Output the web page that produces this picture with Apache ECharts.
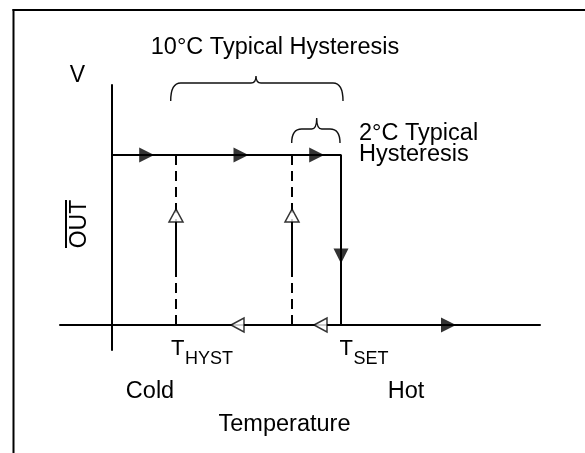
<!DOCTYPE html>
<html>
<head>
<meta charset="utf-8">
<script src="https://cdn.jsdelivr.net/npm/echarts@6/dist/echarts.min.js"></script>
<style>
  html, body { margin: 0; padding: 0; background: #fff; }
  #main { width: 585px; height: 453px; }
</style>
</head>
<body>
<div id="main"></div>
<script>
// diagram units: x = temperature (arbitrary), y = output level
var tempExtent = [-5.2, 42.8];
var levelExtent = [-2.5, 24];
var outLow = 0, outHigh = 17;
var tHyst = 6.4, tInner = 18, tSet = 22.9;

// OUT vs temperature path (solid)
var transferPath = [[0, outHigh], [tSet, outHigh], [tSet, outLow]];
// dashed guides
var guideX = [tHyst, tInner];
// solid up-going shafts under the hollow heads
var upShaft = [5.8, 10.3];
var upHeadY = 10.95;
// arrow heads
var rightArrowsTop = [3.47, 12.9, 20.47];
var downArrowY = 6.9;
var leftArrowsBottom = [12.55, 20.85];
var rightArrowBottom = [33.65];
// braces: [x1, x2, xCusp, yEnd, yLine, yCusp]
var braces = [
    [5.87, 23.1, 14.4, 22.4, 24.2, 24.9],
    [17.97, 22.8, 20.47, 18.2, 19.6, 20.7]
];

var FONT = "'Liberation Sans', Arial, Helvetica, sans-serif";
var myChart = echarts.init(document.getElementById('main'), null, {renderer: 'canvas'});

var series = [];
series.push({
    type: 'line', data: transferPath, symbol: 'none', silent: true,
    lineStyle: {color: '#000', width: 2}, z: 3
});
guideX.forEach(function (x) {
    series.push({
        type: 'line', data: [[x, outLow], [x, outHigh]], symbol: 'none', silent: true,
        lineStyle: {color: '#000', width: 2, type: [10, 6]}, z: 2
    });
    series.push({
        type: 'line', data: [[x, upShaft[0]], [x, upShaft[1]]], symbol: 'none', silent: true,
        lineStyle: {color: '#000', width: 2}, z: 3
    });
});
var arrows = [];
rightArrowsTop.forEach(function (x) { arrows.push({value: [x, outHigh], symbolRotate: -90}); });
arrows.push({value: [tSet, downArrowY], symbolRotate: 180});
rightArrowBottom.forEach(function (x) { arrows.push({value: [x, outLow], symbolRotate: -90}); });
series.push({
    type: 'scatter', data: arrows, symbol: 'triangle', symbolSize: [15, 15],
    itemStyle: {color: '#000'}, silent: true, z: 5
});
var hollow = [];
guideX.forEach(function (x) { hollow.push({value: [x, upHeadY], symbolRotate: 0}); });
leftArrowsBottom.forEach(function (x) { hollow.push({value: [x, outLow], symbolRotate: 90}); });
series.push({
    type: 'scatter', data: hollow, symbol: 'triangle', symbolSize: [14, 13],
    itemStyle: {color: '#fff', borderColor: '#000', borderWidth: 1.5}, silent: true, z: 5
});
series.push({
    type: 'custom', data: braces, silent: true, z: 4,
    renderItem: function (params, api) {
        var x1 = api.value(0), x2 = api.value(1), xc = api.value(2);
        var yE = api.value(3), yL = api.value(4), yC = api.value(5);
        var a = api.coord([x1, yE]), b = api.coord([x1, yL]);
        var c = api.coord([xc, yC]), d = api.coord([x2, yE]);
        var r = Math.min(10, Math.abs(b[1] - a[1]));
        var k = 5;
        var p = 'M' + a[0] + ',' + a[1] +
            ' Q' + a[0] + ',' + b[1] + ' ' + (a[0] + r) + ',' + b[1] +
            ' L' + (c[0] - k) + ',' + b[1] +
            ' Q' + c[0] + ',' + b[1] + ' ' + c[0] + ',' + c[1] +
            ' Q' + c[0] + ',' + b[1] + ' ' + (c[0] + k) + ',' + b[1] +
            ' L' + (d[0] - r) + ',' + b[1] +
            ' Q' + d[0] + ',' + b[1] + ' ' + d[0] + ',' + d[1];
        return {
            type: 'path',
            shape: {pathData: p},
            style: {stroke: '#111', fill: null, lineWidth: 1.4}
        };
    }
});

function txt(s, x, y, size, align) {
    return {
        type: 'text', x: x, y: y, silent: true,
        style: {text: s, fill: '#000', fontSize: size, fontFamily: FONT,
            align: align || 'left', verticalAlign: 'middle'}
    };
}

var option = {
    animation: false,
    backgroundColor: '#fff',
    grid: {left: 60, right: 45, top: 85, bottom: 103},
    xAxis: {
        type: 'value', min: tempExtent[0], max: tempExtent[1],
        axisLine: {show: true, onZero: true, lineStyle: {color: '#000', width: 2}},
        axisTick: {show: false}, axisLabel: {show: false}, splitLine: {show: false}
    },
    yAxis: {
        type: 'value', min: levelExtent[0], max: levelExtent[1],
        axisLine: {show: true, onZero: true, lineStyle: {color: '#000', width: 2}},
        axisTick: {show: false}, axisLabel: {show: false}, splitLine: {show: false}
    },
    graphic: [
        {type: 'line', silent: true, shape: {x1: 12.5, y1: 10, x2: 585, y2: 10}, style: {stroke: '#000', lineWidth: 2}},
        {type: 'line', silent: true, shape: {x1: 13.5, y1: 9, x2: 13.5, y2: 453}, style: {stroke: '#000', lineWidth: 2}},
        txt('10°C Typical Hysteresis', 275, 48, 23.5, 'center'),
        txt('V', 77.5, 76, 23, 'center'),
        txt('2°C Typical', 359, 134, 23.5),
        txt('Hysteresis', 359, 155, 23.5),
        txt('T', 171, 349, 22),
        txt('HYST', 185, 359, 18),
        txt('T', 339.5, 349, 22),
        txt('SET', 353.5, 359, 18),
        txt('Cold', 150, 392, 23.5, 'center'),
        txt('Hot', 406, 392, 23.5, 'center'),
        txt('Temperature', 284.5, 425, 23.5, 'center'),
        {
            type: 'text', x: 80, y: 224, rotation: Math.PI / 2, silent: true,
            style: {text: 'OUT', fill: '#000', fontSize: 23, fontFamily: FONT,
                align: 'center', verticalAlign: 'middle'}
        },
        {type: 'line', silent: true, shape: {x1: 66, y1: 200, x2: 66, y2: 248}, style: {stroke: '#000', lineWidth: 2}}
    ],
    series: series
};
myChart.setOption(option);
</script>
</body>
</html>
